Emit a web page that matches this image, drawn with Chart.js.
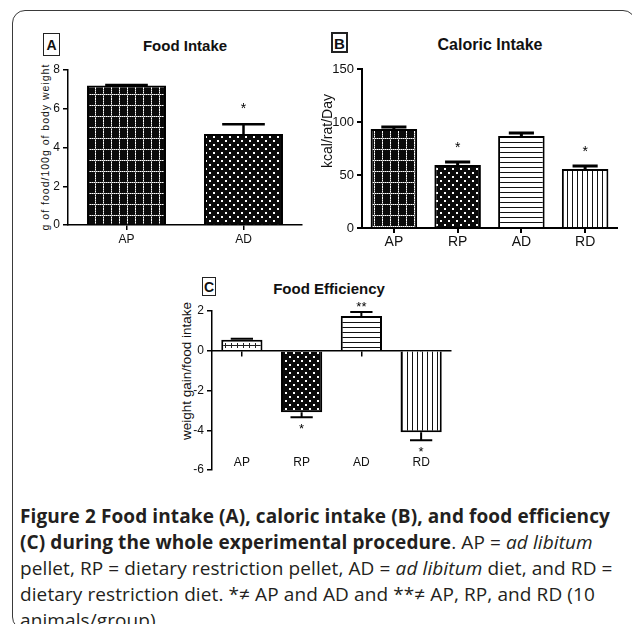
<!DOCTYPE html>
<html>
<head>
<meta charset="utf-8">
<script src="https://cdn.jsdelivr.net/npm/chart.js@4.4.1/dist/chart.umd.min.js"></script>
<style>
  html, body { margin: 0; padding: 0; background: #fff; }
  body { width: 632px; height: 624px; overflow: hidden; position: relative;
         font-family: 'Liberation Sans', Arial, sans-serif; color: #111; }
  .frame { position: absolute; left: 12px; top: 10px; width: 624px; height: 620px;
           border: 1.5px solid #3a3a3a; border-radius: 13px; box-sizing: border-box; }
  canvas { position: absolute; }
  .tag { position: absolute; box-sizing: border-box; border: 1px solid #222;
         font-weight: bold; text-align: center; font-size: 14px; line-height: 1; }
  .ttl { position: absolute; font-weight: bold; white-space: nowrap; transform: translate(-50%, -50%); }
  .ytl { position: absolute; white-space: nowrap; transform: translate(-50%, -50%) rotate(-90deg); }
  .cap { position: absolute; left: 20px; top: 503px; font-family: 'Open Sans', sans-serif;
         font-size: 19px; letter-spacing: 0.1px; line-height: 26px; color: #231f20; white-space: nowrap; }
</style>
</head>
<body>
<div class="frame"></div>

<div class="tag" style="left:43px;top:33px;width:17px;height:23px;padding-top:4px;">A</div>
<div class="ttl" style="left:185px;top:45px;font-size:15px;">Food Intake</div>
<div class="ytl" style="left:45px;top:147px;font-size:10.5px;letter-spacing:1px;">g of food/100g of body weight</div>
<canvas id="chartA" width="300" height="195" style="left:20px;top:55px;width:300px;height:195px"></canvas>

<div class="tag" style="left:331px;top:32px;width:17px;height:21px;border-width:2.5px;padding-top:2px;font-size:15px;">B</div>
<div class="ttl" style="left:490px;top:45px;font-size:16px;">Caloric Intake</div>
<div class="ytl" style="left:327px;top:131px;font-size:14px;">kcal/rat/Day</div>
<canvas id="chartB" width="317" height="195" style="left:315px;top:55px;width:317px;height:195px"></canvas>

<div class="tag" style="left:202px;top:277px;width:14px;height:19px;padding-top:2px;">C</div>
<div class="ttl" style="left:329px;top:288px;font-size:15px;">Food Efficiency</div>
<div class="ytl" style="left:186px;top:371px;font-size:13.5px;">weight gain/food intake</div>
<canvas id="chartC" width="285" height="190" style="left:180px;top:295px;width:285px;height:190px"></canvas>

<div class="cap"><b>Figure 2 Food intake (A), caloric intake (B), and food efficiency<br>(C) during the whole experimental procedure</b>. AP = <i>ad libitum</i><br>pellet, RP = dietary restriction pellet, AD = <i>ad libitum</i> diet, and RD =<br>dietary restriction diet. *≠ AP and AD and **≠ AP, RP, and RD (10<br>animals/group).</div>

<script>
// ── Panel A: food intake (g of food / 100 g body weight) ──
const catsA   = ['AP', 'AD'];
const intakeA = [7.2, 4.7];
const errA    = [0.03, 0.5];
const marksA  = ['', '*'];
const ticksA  = [0, 2, 4, 6, 8];

// ── Panel B: caloric intake (kcal/rat/day) ──
const catsB   = ['AP', 'RP', 'AD', 'RD'];
const kcalB   = [93.4, 59.4, 86.8, 55.7];
const errB    = [1.9, 2.9, 2.8, 2.8];
const marksB  = ['', '*', '', '*'];
const ticksB  = [0, 50, 100, 150];

// ── Panel C: food efficiency (weight gain / food intake) ──
const catsC   = ['AP', 'RP', 'AD', 'RD'];
const effC    = [0.55, -3.1, 1.75, -4.1];
const errC    = [0.05, 0.25, 0.2, 0.4];
const marksC  = ['', '*', '**', '*'];
const ticksC  = [-6, -4, -2, 0, 2];

const FONT = "'Liberation Sans', Arial, sans-serif";

// ─── fill patterns ───────────────────────────────────
function tile(ctx, w, h, draw) {
  const c = document.createElement('canvas');
  c.width = w; c.height = h;
  const g = c.getContext('2d');
  draw(g, w, h);
  return ctx.createPattern(c, 'repeat');
}
const fills = {
  grid: ctx => tile(ctx, 8, 11, (g, w, h) => {
    g.fillStyle = '#0a0a0a'; g.fillRect(0, 0, w, h);
    for (let y = 0; y < h; y++) { g.fillStyle = y % 2 ? '#999' : '#fff'; g.fillRect(3, y, 1, 1); }
    for (let x = 0; x < w; x++) { g.fillStyle = x % 2 ? '#999' : '#fff'; g.fillRect(x, 6, 1, 1); }
  }),
  dots: ctx => tile(ctx, 8, 8, (g, w, h) => {
    g.fillStyle = '#0a0a0a'; g.fillRect(0, 0, w, h);
    g.fillStyle = '#fff'; g.fillRect(1, 1, 2, 2); g.fillRect(5, 5, 2, 2);
  }),
  hlines: ctx => tile(ctx, 5, 5, (g, w, h) => {
    g.fillStyle = '#fff'; g.fillRect(0, 0, w, h);
    g.fillStyle = '#111'; g.fillRect(0, 2, w, 1);
  }),
  vlines: ctx => tile(ctx, 5, 5, (g, w, h) => {
    g.fillStyle = '#fff'; g.fillRect(0, 0, w, h);
    g.fillStyle = '#111'; g.fillRect(2, 0, 1, h);
  }),
  cross: ctx => tile(ctx, 6, 11, (g, w, h) => {
    g.fillStyle = '#fff'; g.fillRect(0, 0, w, h);
    g.fillStyle = '#222'; g.fillRect(0, 6, w, 1); g.fillRect(3, 4, 1, 5);
  }),
};

// ─── error bars + significance marks ─────────────────
const errorBars = {
  id: 'errorBars',
  afterDatasetsDraw(chart, args, opts) {
    const { ctx } = chart;
    const ys = chart.scales.y;
    const vals = chart.data.datasets[0].data;
    ctx.save();
    ctx.strokeStyle = '#000';
    ctx.fillStyle = '#000';
    ctx.lineWidth = opts.lineWidth;
    ctx.textAlign = 'center';
    ctx.textBaseline = 'alphabetic';
    ctx.font = `${opts.starSize}px ${FONT}`;
    chart.getDatasetMeta(0).data.forEach((bar, i) => {
      const v = vals[i], e = opts.errors[i];
      const dir = v >= 0 ? 1 : -1;
      const y0 = ys.getPixelForValue(v);
      const y1 = ys.getPixelForValue(v + dir * e);
      const half = bar.width * 0.27;
      if (e > 0) {
        ctx.beginPath();
        ctx.moveTo(bar.x, y0); ctx.lineTo(bar.x, y1);
        ctx.moveTo(bar.x - half, y1); ctx.lineTo(bar.x + half, y1);
        ctx.stroke();
      }
      const m = opts.marks[i];
      if (m) {
        const yc = y1 - dir * opts.gap;
        ctx.fillText(m, bar.x, yc + opts.starSize * 0.57);
      }
    });
    ctx.restore();
  }
};

function axisY(ticks, width, fontSize, borderW) {
  return {
    min: ticks[0], max: ticks[ticks.length - 1],
    afterBuildTicks: s => { s.ticks = ticks.map(v => ({ value: v })); },
    afterFit: s => { s.width = width; },
    border: { color: '#000', width: borderW },
    grid: { drawOnChartArea: false, drawTicks: true, tickLength: 5, color: '#000', lineWidth: borderW },
    ticks: { color: '#111', padding: 3, font: { size: fontSize, family: FONT } },
  };
}

function makeChart(id, cats, vals, patterns, pct, scales, errOpts) {
  const canvas = document.getElementById(id);
  const ctx = canvas.getContext('2d');
  return new Chart(canvas, {
    type: 'bar',
    data: {
      labels: cats,
      datasets: [{
        data: vals,
        backgroundColor: patterns.map(p => fills[p](ctx)),
        borderColor: '#000',
        borderWidth: 2,
        borderSkipped: 'start',
        barPercentage: pct,
        categoryPercentage: 1,
      }]
    },
    options: {
      responsive: false,
      animation: false,
      layout: { padding: errOpts.padding },
      plugins: { legend: { display: false }, tooltip: { enabled: false }, errorBars: errOpts },
      scales,
    },
    plugins: [errorBars],
  });
}

// A
makeChart('chartA', catsA, intakeA, ['grid', 'dots'], 0.675, {
  y: axisY(ticksA, 48, 12, 1.5),
  x: {
    afterFit: s => { s.height = 25; },
    border: { color: '#000', width: 1.5 },
    grid: { offset: false, drawOnChartArea: false, tickLength: 5, color: '#000', lineWidth: 1.5 },
    ticks: { color: '#111', padding: 2, font: { size: 12, family: FONT } },
  },
}, { errors: errA, marks: marksA, gap: 19, lineWidth: 2.5, starSize: 14,
     padding: { left: 0, right: 18, top: 15, bottom: 0 } });

// B
makeChart('chartB', catsB, kcalB, ['grid', 'dots', 'hlines', 'vlines'], 0.73, {
  y: axisY(ticksB, 47, 13, 2),
  x: {
    afterFit: s => { s.height = 22; },
    border: { color: '#000', width: 2 },
    grid: { offset: false, drawOnChartArea: false, tickLength: 5, color: '#000', lineWidth: 2 },
    ticks: { color: '#111', padding: 1, font: { size: 14, family: FONT } },
  },
}, { errors: errB, marks: marksB, gap: 18, lineWidth: 3, starSize: 14,
     padding: { left: 0, right: 15, top: 14, bottom: 0 } });

// C — x axis runs along zero, its labels pushed down to the foot of the panel
makeChart('chartC', catsC, effC, ['cross', 'dots', 'hlines', 'vlines'], 0.69, {
  y: axisY(ticksC, 32, 12, 1.5),
  x: {
    position: { y: 0 },
    // the big label offset must not eat into the plot width
    afterFit: s => { s.paddingLeft = 0; s.paddingRight = 0; },
    border: { color: '#000', width: 1.5 },
    grid: { offset: false, drawOnChartArea: false, tickLength: 5, color: '#000', lineWidth: 1.5 },
    ticks: { color: '#111', padding: 100, font: { size: 12, family: FONT } },
  },
}, { errors: errC, marks: marksC, gap: 8, lineWidth: 2, starSize: 13,
     padding: { left: 0, right: 14, top: 16, bottom: 15 } });
</script>
</body>
</html>
